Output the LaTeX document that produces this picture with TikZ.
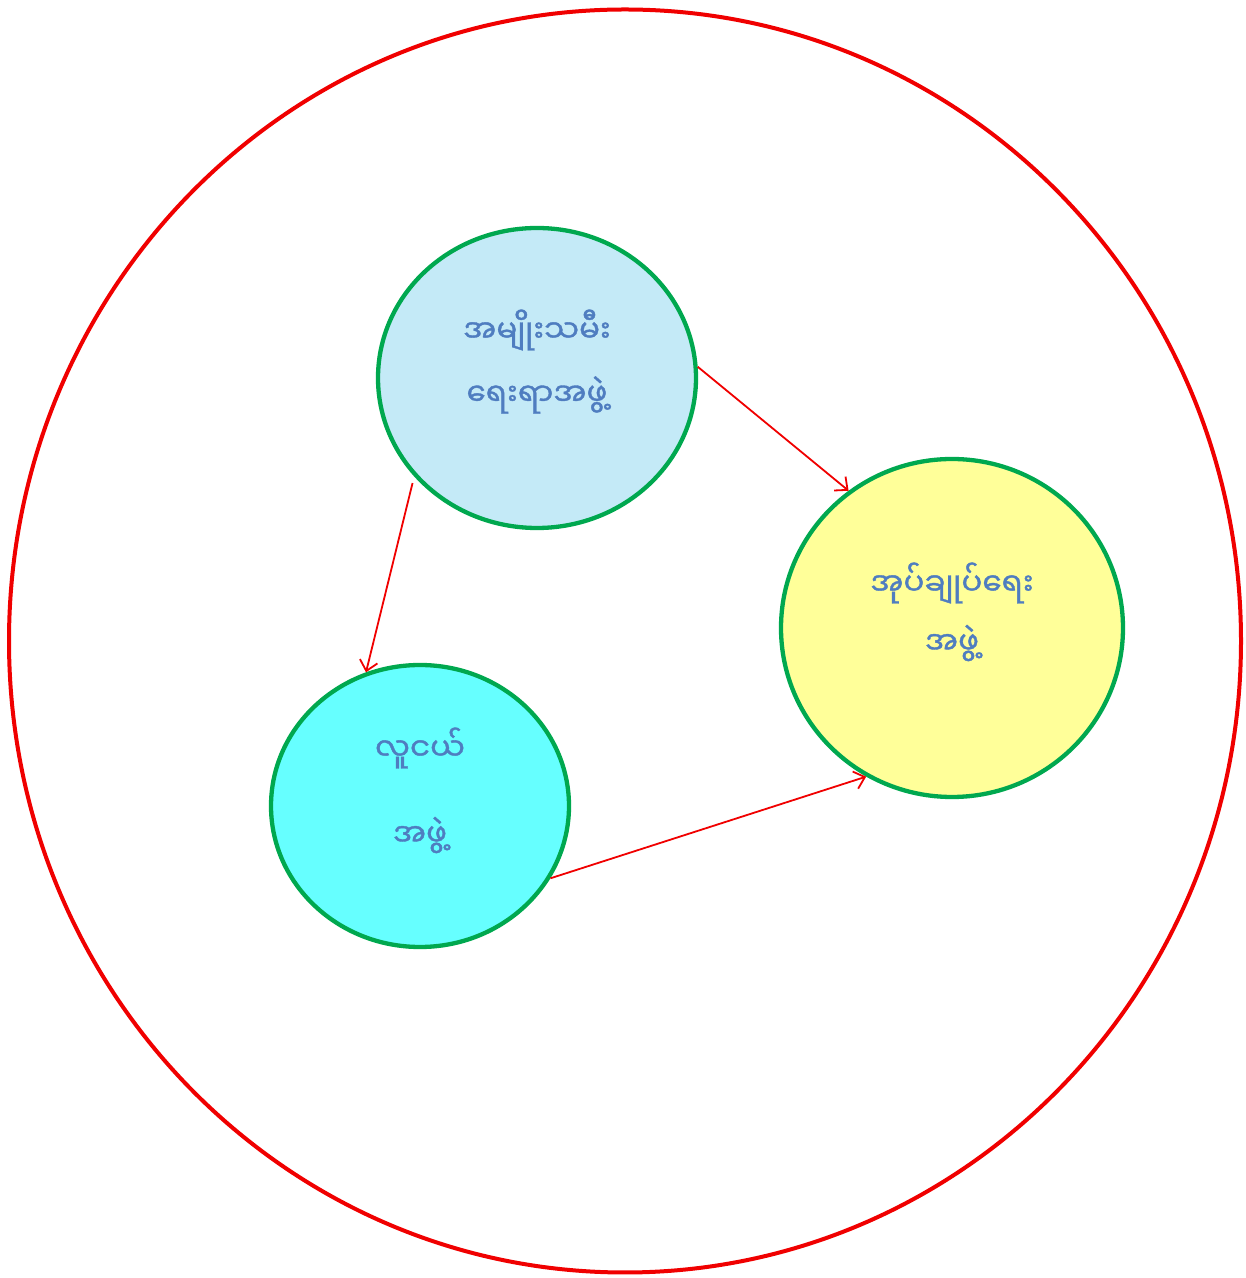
\documentclass[tikz,border=0pt]{standalone}
\usepackage{fontspec}
\newfontfamily\myan[Script=Myanmar,FakeBold=1.2]{Noto Sans Myanmar UI}
\usetikzlibrary{shapes.geometric,arrows.meta}
\definecolor{outerred}{HTML}{F00000}
\definecolor{ringgreen}{HTML}{00A84F}
\definecolor{fillblue}{HTML}{C4EAF7}
\definecolor{fillyellow}{HTML}{FFFF99}
\definecolor{fillcyan}{HTML}{66FFFF}
\definecolor{txtblue}{HTML}{4F7DC0}
\tikzset{
  group/.style={ellipse, draw=ringgreen, line width=4.3pt, inner sep=0pt},
  lbl/.style={font=\myan\fontsize{31}{36}\selectfont, text=txtblue, inner sep=0pt},
  link/.style={draw=outerred, line width=1.8pt, -{Straight Barb[length=10pt,width=18pt,line width=1.8pt]}}
}
\begin{document}
\begin{tikzpicture}[x=1pt,y=1pt]
\useasboundingbox (0,0) rectangle (1246,1278);
\node[ellipse, draw=outerred, line width=4pt, minimum width=1232pt, minimum height=1263pt, inner sep=0pt] (outer) at (625,637) {};
\node[group, fill=fillblue, minimum width=318pt, minimum height=300pt] (a) at (537,900) {};
\node[group, fill=fillyellow, minimum width=342pt, minimum height=338pt] (b) at (952,650) {};
\node[group, fill=fillcyan, minimum width=298pt, minimum height=282pt] (c) at (420,472) {};
\node[lbl] (a1) at (537,948) {အမျိုးသမီး};
\node[lbl] (a2) at (537,883) {ရေးရာအဖွဲ့};
\node[lbl] (b1) at (952,695) {အုပ်ချုပ်ရေး};
\node[lbl] (b2) at (952,635) {အဖွဲ့};
\node[lbl] (c1) at (420,530) {လူငယ်};
\node[lbl] (c2) at (420,443) {အဖွဲ့};
\draw[link] (a.4) -- (b.127);
\draw[link] ([shift={(-4,-4)}]a.220) -- (c.112);
\draw[link] (c.-29) -- (b.240);
\end{tikzpicture}
\end{document}
